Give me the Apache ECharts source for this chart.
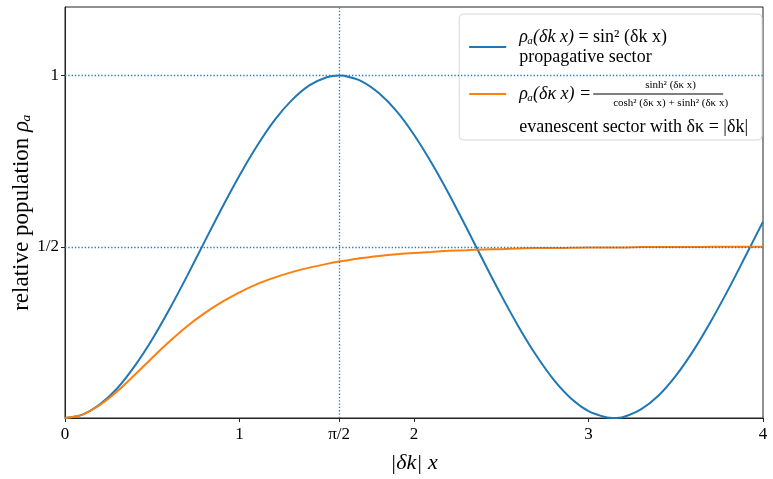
<!DOCTYPE html>
<html>
<head>
<meta charset="utf-8">
<script src="https://cdn.jsdelivr.net/npm/echarts@6/dist/echarts.min.js"></script>
<style>
html,body{margin:0;padding:0;background:#fff;}
#chart{width:773px;height:479px;}
</style>
</head>
<body>
<div id="chart"></div>
<script>
// x = |δk| x
var xs = [0, 0.1, 0.2, 0.3, 0.4, 0.5, 0.6, 0.7, 0.8, 0.9, 1.0, 1.1, 1.2, 1.3, 1.4, 1.5, 1.571, 1.6, 1.7, 1.8, 1.9, 2.0,
	2.1, 2.2, 2.3, 2.4, 2.5, 2.6, 2.7, 2.8, 2.9, 3.0, 3.1, 3.142, 3.2, 3.3, 3.4, 3.5, 3.6, 3.7, 3.8, 3.9, 4.0];
// propagative sector
var propagative = [0, 0.010, 0.040, 0.087, 0.152, 0.230, 0.319, 0.415, 0.515, 0.614, 0.708, 0.794, 0.869, 0.928, 0.971, 0.995, 1.0, 0.999, 0.983, 0.948, 0.896, 0.827,
	0.745, 0.654, 0.556, 0.456, 0.358, 0.266, 0.183, 0.112, 0.057, 0.020, 0.002, 0, 0.003, 0.025, 0.065, 0.123, 0.196, 0.281, 0.374, 0.473, 0.573];
// evanescent sector
var evanescent = [0, 0.010, 0.038, 0.078, 0.126, 0.176, 0.224, 0.268, 0.306, 0.339, 0.367, 0.391, 0.410, 0.426, 0.439, 0.450, 0.457, 0.459, 0.467, 0.473, 0.478, 0.482,
	0.485, 0.488, 0.490, 0.492, 0.493, 0.495, 0.496, 0.496, 0.497, 0.498, 0.498, 0.498, 0.498, 0.499, 0.499, 0.499, 0.499, 0.500, 0.500, 0.500, 0.500];
var xTicks = [0, 1, Math.PI / 2, 2, 3, 4];
var xTickLabels = ['0', '1', 'π/2', '2', '3', '4'];
var yTicks = [0.5, 1];
var yTickLabels = ['1/2', '1'];

function pairs(ys){
	var out = [];
	for (var i = 0; i < xs.length; i++) {
		out.push([xs[i], ys[i]]);
	}
	return out;
}

function tickText(ticks, labels, v){
	for (var i = 0; i < ticks.length; i++) {
		if (Math.abs(ticks[i] - v) < 1e-6) return labels[i];
	}
	return '';
}

var serif = 'Liberation Serif';
var blue = '#1f77b4';
var orange = '#ff7f0e';

var myChart = echarts.init(document.getElementById('chart'));
option = {
	animation: false,
	grid: {
		left: 65, right: 10, top: 7, bottom: 61,
		outerBoundsMode: 'none',
		containLabel: false,
		show: true, borderColor: '#222', borderWidth: 1
	},
	legend: {
		orient: 'vertical',
		right: 11,
		top: 14,
		itemWidth: 37,
		itemHeight: 14,
		itemGap: -4,
		padding: [14, 14, 4, 9],
		borderColor: '#d6d6d6',
		borderWidth: 1,
		borderRadius: 4,
		backgroundColor: 'rgba(255,255,255,0.8)',
		itemStyle: { opacity: 0 },
		lineStyle: { width: 2 },
		data: ['propagative', 'evanescent'],
		formatter: function(name){
			if (name == 'propagative') {
				return '{sp| }{m|ρₐ(δk x)}{r| = sin² (δk x)}\n{sp| }{r|propagative sector}';
			}
			// fraction built from three short lines, padded so the icon sits on the bar
			return '{gap| }\n' +
				'{sq| }{lw| }{num|sinh² (δκ x)}\n' +
				'{sq| }{lhs|ρₐ(δκ x) =}{bar| }\n' +
				'{sq| }{lw| }{num|cosh² (δκ x) + sinh² (δκ x)}\n' +
				'{gap2| }\n' +
				'{sp| }{r|evanescent sector with δκ = |δk|}';
		},
		textStyle: {
			fontFamily: serif,
			fontSize: 18,
			color: '#000',
			rich: {
				sp: { width: 8, fontSize: 18, lineHeight: 20 },
				sq: { width: 8, fontSize: 6, lineHeight: 6 },
				gap: { fontSize: 6, lineHeight: 28 },
				gap2: { fontSize: 6, lineHeight: 8 },
				m: { fontFamily: serif, fontSize: 18, fontStyle: 'italic', lineHeight: 20, color: '#000' },
				r: { fontFamily: serif, fontSize: 18, lineHeight: 20, color: '#000' },
				lw: { width: 74, fontSize: 6, lineHeight: 6 },
				lhs: { width: 74, fontFamily: serif, fontSize: 18, fontStyle: 'italic', lineHeight: 6, color: '#000' },
				num: { width: 130, align: 'center', fontFamily: serif, fontSize: 11, lineHeight: 12, color: '#000' },
				bar: { width: 130, height: 1, backgroundColor: '#000', lineHeight: 4 }
			}
		}
	},
	xAxis: {
		type: 'value',
		min: 0,
		max: 4,
		name: '|δk| x',
		nameLocation: 'middle',
		nameGap: 34,
		nameMoveOverlap: false,
		nameTextStyle: { fontFamily: serif, fontSize: 22, fontStyle: 'italic', color: '#000' },
		axisLine: { show: true, lineStyle: { color: '#222', width: 1 } },
		axisTick: { show: true, length: 4, customValues: xTicks, lineStyle: { color: '#222' } },
		axisLabel: {
			customValues: xTicks,
			fontFamily: serif, fontSize: 17, color: '#000', margin: 8,
			formatter: function(v){ return tickText(xTicks, xTickLabels, v); }
		},
		splitLine: { show: false }
	},
	yAxis: {
		type: 'value',
		min: 0,
		max: 1.2,
		name: '{t|relative population }{g|ρₐ}',
		nameLocation: 'middle',
		nameGap: 32,
		nameMoveOverlap: false,
		nameTextStyle: {
			fontFamily: serif, fontSize: 23, color: '#000',
			rich: {
				t: { fontFamily: serif, fontSize: 23, color: '#000' },
				g: { fontFamily: serif, fontSize: 23, fontStyle: 'italic', color: '#000' }
			}
		},
		axisLine: { show: true, lineStyle: { color: '#222', width: 1 } },
		axisTick: { show: true, length: 4, customValues: yTicks, lineStyle: { color: '#222' } },
		axisLabel: {
			customValues: yTicks,
			fontFamily: serif, fontSize: 17, color: '#000', margin: 6,
			formatter: function(v){ return tickText(yTicks, yTickLabels, v); }
		},
		splitLine: { show: false }
	},
	series: [
		{
			name: 'propagative',
			type: 'line',
			data: pairs(propagative),
			smooth: 0.3,
			symbol: 'none',
			color: blue,
			lineStyle: { width: 2, color: blue },
			markLine: {
				silent: true,
				symbol: 'none',
				label: { show: false },
				itemStyle: { color: blue },
				lineStyle: { color: blue, type: [1.3, 2], width: 1.3, opacity: 1 },
				emphasis: { disabled: true },
				data: [{ yAxis: 1 }, { yAxis: 0.5 }, { xAxis: Math.PI / 2 }]
			}
		},
		{
			name: 'evanescent',
			type: 'line',
			data: pairs(evanescent),
			smooth: 0.3,
			symbol: 'none',
			color: orange,
			lineStyle: { width: 2, color: orange }
		}
	]
};
myChart.setOption(option);
</script>
</body>
</html>
